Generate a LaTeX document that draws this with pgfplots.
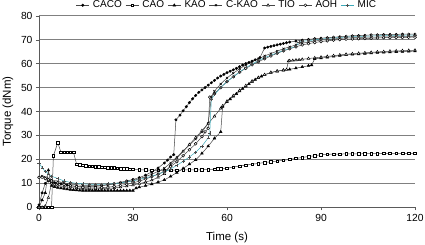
\documentclass[border=0pt]{standalone}
\usepackage{pgfplots}
\pgfplotsset{compat=1.18}
\usepackage{fontspec}
\setmainfont{Liberation Sans}
\definecolor{micc}{RGB}{60,170,185}
\definecolor{lnc}{RGB}{70,70,70}
\definecolor{gridc}{RGB}{128,128,128}
\begin{document}
\begin{tikzpicture}
\begin{axis}[name=ax,
  scale only axis, width=376pt, height=191.6pt,
  xmin=0, xmax=120, ymin=0, ymax=80,
  xtick={0,30,60,90,120}, ytick={0,10,...,80},
  axis lines*=left,
  axis line style={draw=gridc!70!black, line width=0.6pt},
  ymajorgrids, major grid style={draw=gridc, line width=0.6pt},
  tick align=outside, major tick length=3pt,
  tick style={draw=gridc!70!black},
  tick label style={font=\fontsize{10.3}{12}\selectfont},
  label style={font=\fontsize{11.5}{13}\selectfont},
  /pgf/number format/assume math mode=true,
  xlabel={Time (s)}, ylabel={Torque (dNm)},
  xlabel style={at={(axis description cs:0.5,0)}, anchor=center, yshift=-30pt},
  ylabel style={at={(axis description cs:0,0.5)}, anchor=center, rotate=0, yshift=31pt},
  every axis plot/.append style={line width=0.5pt, mark size=1.3pt},
  legend columns=7,
  legend style={draw=none, fill=none, at={(0.5,1)}, anchor=south, yshift=4pt,
    font=\fontsize{10}{11}\selectfont, column sep=1.5pt, inner sep=0pt},
  legend image code/.code={\draw[mark repeat=2,mark phase=2] plot coordinates {(0pt,0pt)(6.5pt,0pt)(13pt,0pt)};},
]
% CACO
\addplot[lnc, mark=*, mark options={fill=black, draw=black, mark size=1.2pt}] table {
0 1
1 6
2 10
3 11
4 10.5
5 10.2
6 10
7 9.8
8 9.5
9 9.3
10 9
12 8.8
14 8.6
16 8.6
18 8.7
20 9
22 9.4
24 9.9
26 10.4
28 11
30 11.6
32 12.4
34 13.4
36 14.8
38 16.4
40 18.5
41 19.7
42 21
43 22
43.7 36.5
45 38.5
46 40.3
47 42
48 43.7
49 45.3
50 46.7
51 48
52 49
53 50
54 51
55 52
56 53
57 54
58 54.8
59 55.5
60 56.2
61 56.8
62 57.4
63 58
64 58.7
65 59.4
66 60
67 60.5
68 61
69 61.6
70.5 62.5
72 66.5
73 66.9
74 67.2
75 67.5
76 67.8
77 68.1
78 68.4
79 68.7
80 69
82 69.4
84 69.8
86 70.1
88 70.4
90 70.6
92 70.8
94 71
96 71.2
98 71.4
100 71.6
102 71.7
104 71.8
106 72
108 72
110 72.1
112 72.2
114 72.2
116 72.3
118 72.3
120 72.3
};
% CAO
\addplot[lnc, mark=square*, mark options={fill=white, draw=black, mark size=1.3pt}] table {
0 0
1 0
2 0
3 0
4 0
4.6 21.5
6 27
7 23
8 23
9 23
10 23
11 23
12 18
13 17.7
14 17.5
15 17.3
16 17.2
17 17.1
18 17
19 16.9
20 16.8
21 16.7
22 16.6
23 16.5
24 16.4
25 16.3
26 16.2
27 16.1
28 16
29 15.9
30 15.8
32 15.7
34 15.6
36 15.5
38 15.4
40 15.4
42 15.5
44 15.5
46 15.6
48 15.6
50 15.6
52 15.7
54 15.7
56 15.8
57 16
58 16.2
60 16.3
62 16.8
64 17.2
66 17.6
68 18
70 18.3
72 18.7
74 19
76 19.3
78 19.6
80 20
82 20.4
84 20.8
86 21.2
88 21.5
90 22
92 22.1
94 22.2
96 22.2
98 22.3
100 22.3
102 22.3
104 22.4
106 22.4
108 22.4
110 22.5
112 22.5
114 22.5
116 22.5
118 22.5
120 22.5
};
% KAO
\addplot[lnc, mark=triangle*, mark options={fill=black, draw=black, mark size=1.5pt}] table {
0 0
1 3
2 6
3 15.5
4 9
5 8.5
6 8.2
7 8
8 7.8
9 7.6
10 7.4
11 7.3
12 7.2
13 7.1
14 7
15 7
16 7
17 7
18 7
19 7
20 7
21 7
22 7
23 7
24 7
25 7
26 7
27 7
28 7
29 7
30 7
31 8
32 8.4
34 9
36 9.7
38 10.5
40 11.4
42 12.9
44 14.5
46 16.2
48 18
50 19.8
52 22.5
54 25.5
56 28.8
58 31.5
58.6 42
60 44
61 45.2
62 46.3
63 47.4
64 48.5
65 49.5
66 50.5
67 51.5
68 52.5
69 53.3
70 54
71 54.7
72 55.3
74 56.2
76 56.8
78 57.2
80 57.6
82 58.1
84 58.6
86 59.1
87 59.4
88 62
90 62.3
92 62.6
94 63
96 63.3
98 63.6
100 63.8
102 64
104 64.2
106 64.4
108 64.6
110 64.7
112 64.8
114 64.9
116 65
118 65.1
120 65.2
};
% C-KAO
\addplot[lnc, mark=x, mark options={draw=black, mark size=1.5pt}] table {
0 12.5
1 13
2 12.5
3 12
4 11.5
6 10.8
8 10.2
10 9.7
12 9.4
14 9.2
16 9.1
18 9.1
20 9.2
22 9.4
24 9.7
26 10.1
28 10.6
30 11.2
32 11.9
34 12.8
36 13.8
38 15
40 16.3
42 18.5
44 21
46 23.5
48 26
50 28.5
52 31.5
54 35
55 46
56 48.5
58 51.5
60 54
62 56
64 57.8
66 59.4
68 60.8
70 62
72 63.2
74 64.2
76 65.2
78 66.2
80 67
82 67.8
84 68.5
86 69
88 69.4
90 69.8
92 70
94 70.3
96 70.5
98 70.7
100 70.8
102 70.9
104 71
106 71
108 71.1
110 71.2
112 71.2
114 71.3
116 71.3
118 71.4
120 71.4
};
% TIO
\addplot[lnc, mark=triangle*, mark options={fill=white, draw=black, mark size=1.5pt}] table {
0 0
1 0
2 0.5
3 4
4 10
5 9.5
6 9.2
8 8.7
10 8.3
12 8
14 7.8
16 7.7
18 7.7
20 7.8
22 7.9
24 8.1
26 8.4
28 8.8
30 9.3
32 9.9
34 10.5
36 11.3
38 12.5
40 14
42 17.5
44 20.5
46 23.3
48 26.2
50 29.1
52 32
54 35
56 38
58 41.3
58.6 42.3
60 44.3
62 46.6
64 48.8
66 50.8
68 52.7
70 54.2
72 55.4
74 56.3
76 56.9
78 57.3
79 57.5
79.6 61
80 61.2
81 61.3
82 61.5
83 61.6
84 61.8
86 62.1
88 62.4
90 62.7
92 63
94 63.3
96 63.6
98 63.9
100 64.1
102 64.3
104 64.5
106 64.7
108 64.9
110 65
112 65.2
114 65.3
116 65.4
118 65.5
120 65.6
};
% AOH
\addplot[lnc, mark=*, mark options={fill=white, draw=black, mark size=1.4pt}] table {
0 12.5
1 12.5
2 12
3 11.5
4 11
6 10.2
8 9.5
10 9
12 8.6
14 8.3
16 8.1
18 8.1
20 8.2
22 8.4
24 8.7
26 9.1
28 9.6
30 10.2
32 10.9
34 11.8
36 12.8
38 13.8
40 15
42 17
44 19
46 21.5
48 24
50 26.5
52 29.5
53 31.5
54 33
54.5 46
56 47.5
58 50
60 52.5
62 54.5
64 56.4
66 58
68 59.5
70 60.8
72 62
74 63.2
76 64.3
78 65.3
80 66.2
82 67
84 67.8
86 68.3
88 68.8
90 69.2
92 69.5
94 69.8
96 70
98 70.2
100 70.3
102 70.4
104 70.5
106 70.6
108 70.7
110 70.8
112 70.8
114 70.9
116 70.9
118 71
120 71
};
% MIC
\addplot[micc, mark=+, mark options={draw=black!70, mark size=1.6pt}] table {
0 18.5
1 16.5
2 15
3 14
4 13
6 12
8 11
10 10.4
12 10
14 9.8
16 9.6
18 9.6
20 9.6
22 9.7
24 9.9
26 10.2
28 10.6
30 11
32 11.6
34 12.3
36 13
38 13.8
40 14.8
42 16
44 17.5
46 19.2
48 21
50 23
52 25.5
54 29
54.5 31
55 45
56 47
58 50
60 52.5
62 54.5
64 56.5
66 58.3
68 59.8
70 61.2
72 62.5
74 63.5
76 64.5
78 65.5
80 66.4
82 67.2
83 69
84 69.3
86 69.6
88 69.9
90 70.2
92 70.5
94 70.7
96 70.9
98 71.1
100 71.2
102 71.3
104 71.4
106 71.5
108 71.6
110 71.7
112 71.7
114 71.8
116 71.8
118 71.9
120 71.9
};
\legend{CACO,CAO,KAO,C-KAO,TIO,AOH,MIC}
\end{axis}
\pgfresetboundingbox
\path ([shift={(-39pt,-37.7pt)}]ax.south west) rectangle ([shift={(10pt,15.7pt)}]ax.north east);
\end{tikzpicture}
\end{document}
